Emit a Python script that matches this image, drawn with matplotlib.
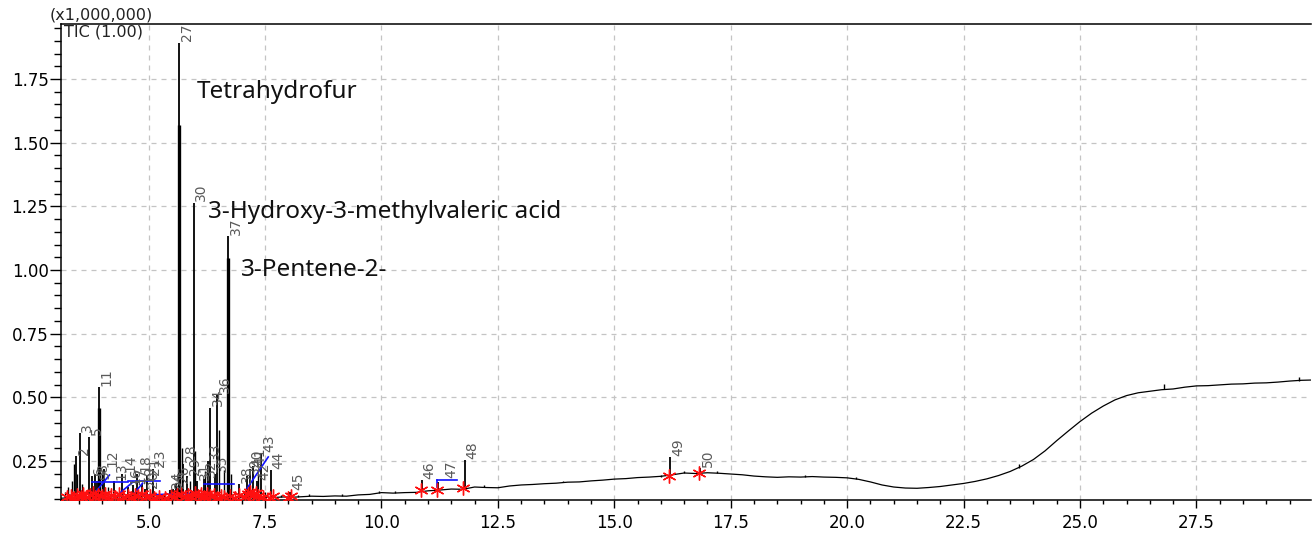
import numpy as np
import matplotlib.pyplot as plt
from matplotlib.ticker import MultipleLocator, FormatStrFormatter

# baseline trace of the TIC (time in min, intensity in 1e6 counts)
base_t = [3.12, 3.3, 3.5, 3.7, 3.9, 4.1, 4.3, 4.5, 4.7, 4.9, 5.1, 5.3, 5.5, 5.7, 5.9,
          6.1, 6.3, 6.5, 6.7, 6.9, 7.1, 7.3, 7.5, 7.7, 7.9, 8.1, 8.3, 8.5, 8.75, 9.0,
          9.25, 9.5, 9.75, 10.0, 10.25, 10.5, 10.75, 11.0, 11.25, 11.5, 11.75, 12.0,
          12.25, 12.5, 12.75, 13.0, 13.25, 13.5, 13.75, 14.0, 14.25, 14.5, 14.75, 15.0,
          15.25, 15.5, 15.75, 16.0, 16.25, 16.5, 16.75, 17.0, 17.25, 17.5, 17.75, 18.0,
          18.25, 18.5, 18.75, 19.0, 19.25, 19.5, 19.75, 20.0, 20.25, 20.5, 20.75, 21.0,
          21.25, 21.5, 21.75, 22.0, 22.25, 22.5, 22.75, 23.0, 23.25, 23.5, 23.75, 24.0,
          24.25, 24.5, 24.75, 25.0, 25.25, 25.5, 25.75, 26.0, 26.25, 26.5, 26.75, 27.0,
          27.25, 27.5, 27.75, 28.0, 28.25, 28.5, 28.75, 29.0, 29.25, 29.5, 29.75, 29.96]
base_v = [0.104, 0.106, 0.103, 0.105, 0.104, 0.106, 0.103, 0.105, 0.104, 0.103, 0.105, 0.104, 0.103, 0.106, 0.104,
          0.105, 0.104, 0.106, 0.105, 0.107, 0.105, 0.106, 0.108, 0.107, 0.109, 0.108, 0.110, 0.112, 0.111, 0.113,
          0.112, 0.117, 0.119, 0.126, 0.124, 0.126, 0.127, 0.133, 0.136, 0.140, 0.139, 0.148,
          0.146, 0.145, 0.152, 0.156, 0.158, 0.161, 0.163, 0.167, 0.168, 0.172, 0.175, 0.179,
          0.181, 0.185, 0.187, 0.190, 0.196, 0.203, 0.201, 0.204, 0.202, 0.199, 0.196, 0.191,
          0.188, 0.186, 0.188, 0.187, 0.189, 0.187, 0.186, 0.184, 0.178, 0.168, 0.156, 0.148,
          0.144, 0.143, 0.146, 0.150, 0.156, 0.162, 0.170, 0.180, 0.193, 0.209, 0.230, 0.256,
          0.290, 0.330, 0.368, 0.405, 0.438, 0.466, 0.490, 0.507, 0.518, 0.524, 0.530, 0.533,
          0.540, 0.545, 0.546, 0.549, 0.552, 0.553, 0.556, 0.557, 0.560, 0.564, 0.567, 0.568]

# numbered peaks: retention time, apex, foot
peak_num = ['2', '3', '5', '6', '8', '9', '11', '12', '13', '14', '16', '17', '18', '19',
            '20', '21', '23', '24', '25', '26', '27', '28', '29', '30', '31', '32', '33',
            '34', '35', '36', '37', '38', '39', '40', '41', '42', '43', '44', '45',
            '46', '47', '48', '49', '50']
peak_rt = [3.44, 3.52, 3.72, 3.78, 3.86, 3.90, 3.94, 4.05, 4.25, 4.44, 4.56, 4.66, 4.76, 4.85,
           4.92, 4.97, 5.09, 5.45, 5.52, 5.60, 5.66, 5.75, 5.83, 5.97, 6.05, 6.18, 6.27,
           6.33, 6.42, 6.48, 6.71, 6.95, 7.12, 7.18, 7.24, 7.32, 7.42, 7.63, 8.04,
           10.87, 11.21, 11.79, 16.20, 16.84]
peak_top = [0.27, 0.36, 0.345, 0.19, 0.20, 0.17, 0.541, 0.22, 0.17, 0.20, 0.15, 0.155, 0.20, 0.16,
            0.14, 0.19, 0.22, 0.135, 0.14, 0.16, 1.893, 0.24, 0.19, 1.264, 0.17, 0.18, 0.25,
            0.46, 0.20, 0.51, 1.134, 0.16, 0.19, 0.22, 0.23, 0.17, 0.28, 0.215, 0.13,
            0.175, 0.167, 0.254, 0.266, 0.223]
peak_foot = [0.102] * 39 + [0.128, 0.140, 0.143, 0.200, 0.200]
# where the number was placed when it was moved off the apex
label_rt = {'47': 11.33}
label_v = {'47': 0.178}

# unnumbered spikes in the trace
spike_rt = [3.20, 3.26, 3.31, 3.36, 3.40, 3.47, 3.58, 3.64, 4.00, 4.12, 4.18, 4.32, 4.50,
            4.60, 4.72, 5.03, 5.15, 5.25, 5.33, 5.71, 5.90, 6.00, 6.22, 6.51, 6.63, 6.78,
            7.05, 7.15, 7.36, 7.50, 7.85, 8.20, 8.45, 9.15, 9.95, 10.30, 12.20, 13.90,
            16.00, 16.50, 17.20, 19.10, 20.20, 23.70, 26.80, 29.70]
spike_top = [0.13, 0.15, 0.12, 0.17, 0.24, 0.20, 0.16, 0.13, 0.20, 0.15, 0.12, 0.13, 0.12,
             0.12, 0.13, 0.13, 0.12, 0.115, 0.12, 0.30, 0.17, 0.29, 0.21, 0.37, 0.215, 0.20,
             0.13, 0.15, 0.20, 0.13, 0.115, 0.116, 0.119, 0.121, 0.131, 0.134, 0.156, 0.173,
             0.197, 0.212, 0.209, 0.194, 0.188, 0.240, 0.552, 0.580]
spike_foot = [0.102] * 30 + [0.107, 0.108, 0.111, 0.113, 0.125, 0.124, 0.147, 0.166,
                             0.189, 0.202, 0.202, 0.187, 0.178, 0.222, 0.532, 0.566]

# broad co-eluting parts drawn heavier
broad_rt = [3.94, 5.66, 6.71]
broad_top = [0.46, 1.57, 1.048]

# integration baselines (blue)
seg_t0 = [3.78, 4.55, 3.84, 4.38, 4.70, 4.81, 6.20, 7.12, 11.19, 11.19]
seg_v0 = [0.168, 0.172, 0.124, 0.124, 0.124, 0.116, 0.160, 0.144, 0.150, 0.175]
seg_t1 = [4.55, 5.24, 4.16, 4.66, 4.87, 6.09, 6.84, 7.57, 11.19, 11.62]
seg_v1 = [0.168, 0.172, 0.195, 0.167, 0.163, 0.124, 0.160, 0.266, 0.175, 0.175]

# peak start / end marks (red)
mark_t = [3.25, 3.33, 3.40, 3.47, 3.55, 3.60, 3.66, 3.74, 3.80, 3.86, 3.92, 4.00, 4.06,
          4.12, 4.20, 4.28, 4.36, 4.45, 4.55, 4.62, 4.70, 4.78, 4.86, 4.95, 5.03, 5.12,
          5.22, 5.35, 5.48, 5.55, 5.62, 5.70, 5.78, 5.85, 5.92, 6.00, 6.07, 6.13, 6.20,
          6.26, 6.33, 6.40, 6.48, 6.56, 6.62, 6.75, 6.85, 6.95, 7.08, 7.13, 7.18, 7.24,
          7.30, 7.36, 7.45, 7.60, 7.68, 8.00, 8.06, 10.85, 11.19, 11.75, 16.18, 16.82]
mark_v = [0.108, 0.112, 0.105, 0.118, 0.110, 0.122, 0.107, 0.115, 0.125, 0.109, 0.118, 0.112, 0.121,
          0.106, 0.116, 0.110, 0.119, 0.108, 0.114, 0.105, 0.117, 0.111, 0.120, 0.109, 0.113, 0.106,
          0.110, 0.104, 0.112, 0.108, 0.116, 0.122, 0.110, 0.118, 0.107, 0.124, 0.113, 0.119, 0.108,
          0.121, 0.111, 0.116, 0.106, 0.114, 0.109, 0.112, 0.105, 0.115, 0.110, 0.122, 0.128, 0.117,
          0.124, 0.113, 0.108, 0.106, 0.111, 0.106, 0.112, 0.136, 0.136, 0.144, 0.191, 0.203]

# compound names
name_txt = ['Tetrahydrofur', '3-Hydroxy-3-methylvaleric acid', '3-Pentene-2-']
name_t = [6.03, 6.28, 6.99]
name_v = [1.70, 1.229, 1.0]

W, H = 1312, 536
fig = plt.figure(figsize=(W / 100, H / 100), dpi=100)
ax = fig.add_axes([61 / W, 36 / H, 1250 / W, 476 / H])

ax.plot(base_t, base_v, color='black', lw=0.9, zorder=3)
ax.vlines(spike_rt, spike_foot, spike_top, color='black', lw=1.0, zorder=3)
ax.vlines(peak_rt, peak_foot, peak_top, color='black', lw=1.3, zorder=3)
ax.vlines(broad_rt, [0.102] * len(broad_rt), broad_top, color='black', lw=2.4, zorder=3)

for t0, v0, t1, v1 in zip(seg_t0, seg_v0, seg_t1, seg_v1):
    ax.plot([t0, t1], [v0, v1], color='#1010ff', lw=1.2, zorder=4)

ax.plot(mark_t, mark_v, ls='none', marker=(6, 2, 0), ms=10, mew=1.0,
        color='#ff1010', zorder=5)

for num, t, v in zip(peak_num, peak_rt, peak_top):
    ax.annotate(num, (label_rt.get(num, t), label_v.get(num, v)),
                xytext=(0.5, 1), textcoords='offset points', rotation=90,
                ha='left', va='bottom', fontsize=10, color='#5a5a5a', zorder=6)

for txt, t, v in zip(name_txt, name_t, name_v):
    ax.text(t, v, txt, family='Noto Sans', fontsize=17.5, color='#111111',
            ha='left', va='center', zorder=6)

ax.set_xlim(3.12, 29.96)
ax.set_ylim(0.097, 1.966)
ax.xaxis.set_major_locator(MultipleLocator(2.5))
ax.xaxis.set_minor_locator(MultipleLocator(0.5))
ax.yaxis.set_major_locator(MultipleLocator(0.25))
ax.yaxis.set_minor_locator(MultipleLocator(0.05))
ax.xaxis.set_major_formatter(FormatStrFormatter('%.1f'))
ax.yaxis.set_major_formatter(FormatStrFormatter('%.2f'))
ax.tick_params(axis='x', which='major', length=6, width=1, labelsize=12, pad=4)
ax.tick_params(axis='x', which='minor', length=3, width=1)
ax.tick_params(axis='y', which='major', length=8, width=1, labelsize=12, pad=1)
ax.tick_params(axis='y', which='minor', length=5, width=1)
ax.grid(True, which='major', color='#c4c4c4', ls=(0, (4, 4)), lw=0.9)
ax.spines['right'].set_visible(False)
for s in ['left', 'top', 'bottom']:
    ax.spines[s].set_linewidth(1.1)

ax.text(0.002, 0.999, 'TIC (1.00)', transform=ax.transAxes, ha='left', va='top',
        fontsize=11.5, color='#222222')
ax.annotate('(x1,000,000)', (0, 1), xycoords='axes fraction', xytext=(-8, 1),
            textcoords='offset points', ha='left', va='bottom', fontsize=11.5,
            color='#222222')

fig.savefig('out.png', dpi=100)
